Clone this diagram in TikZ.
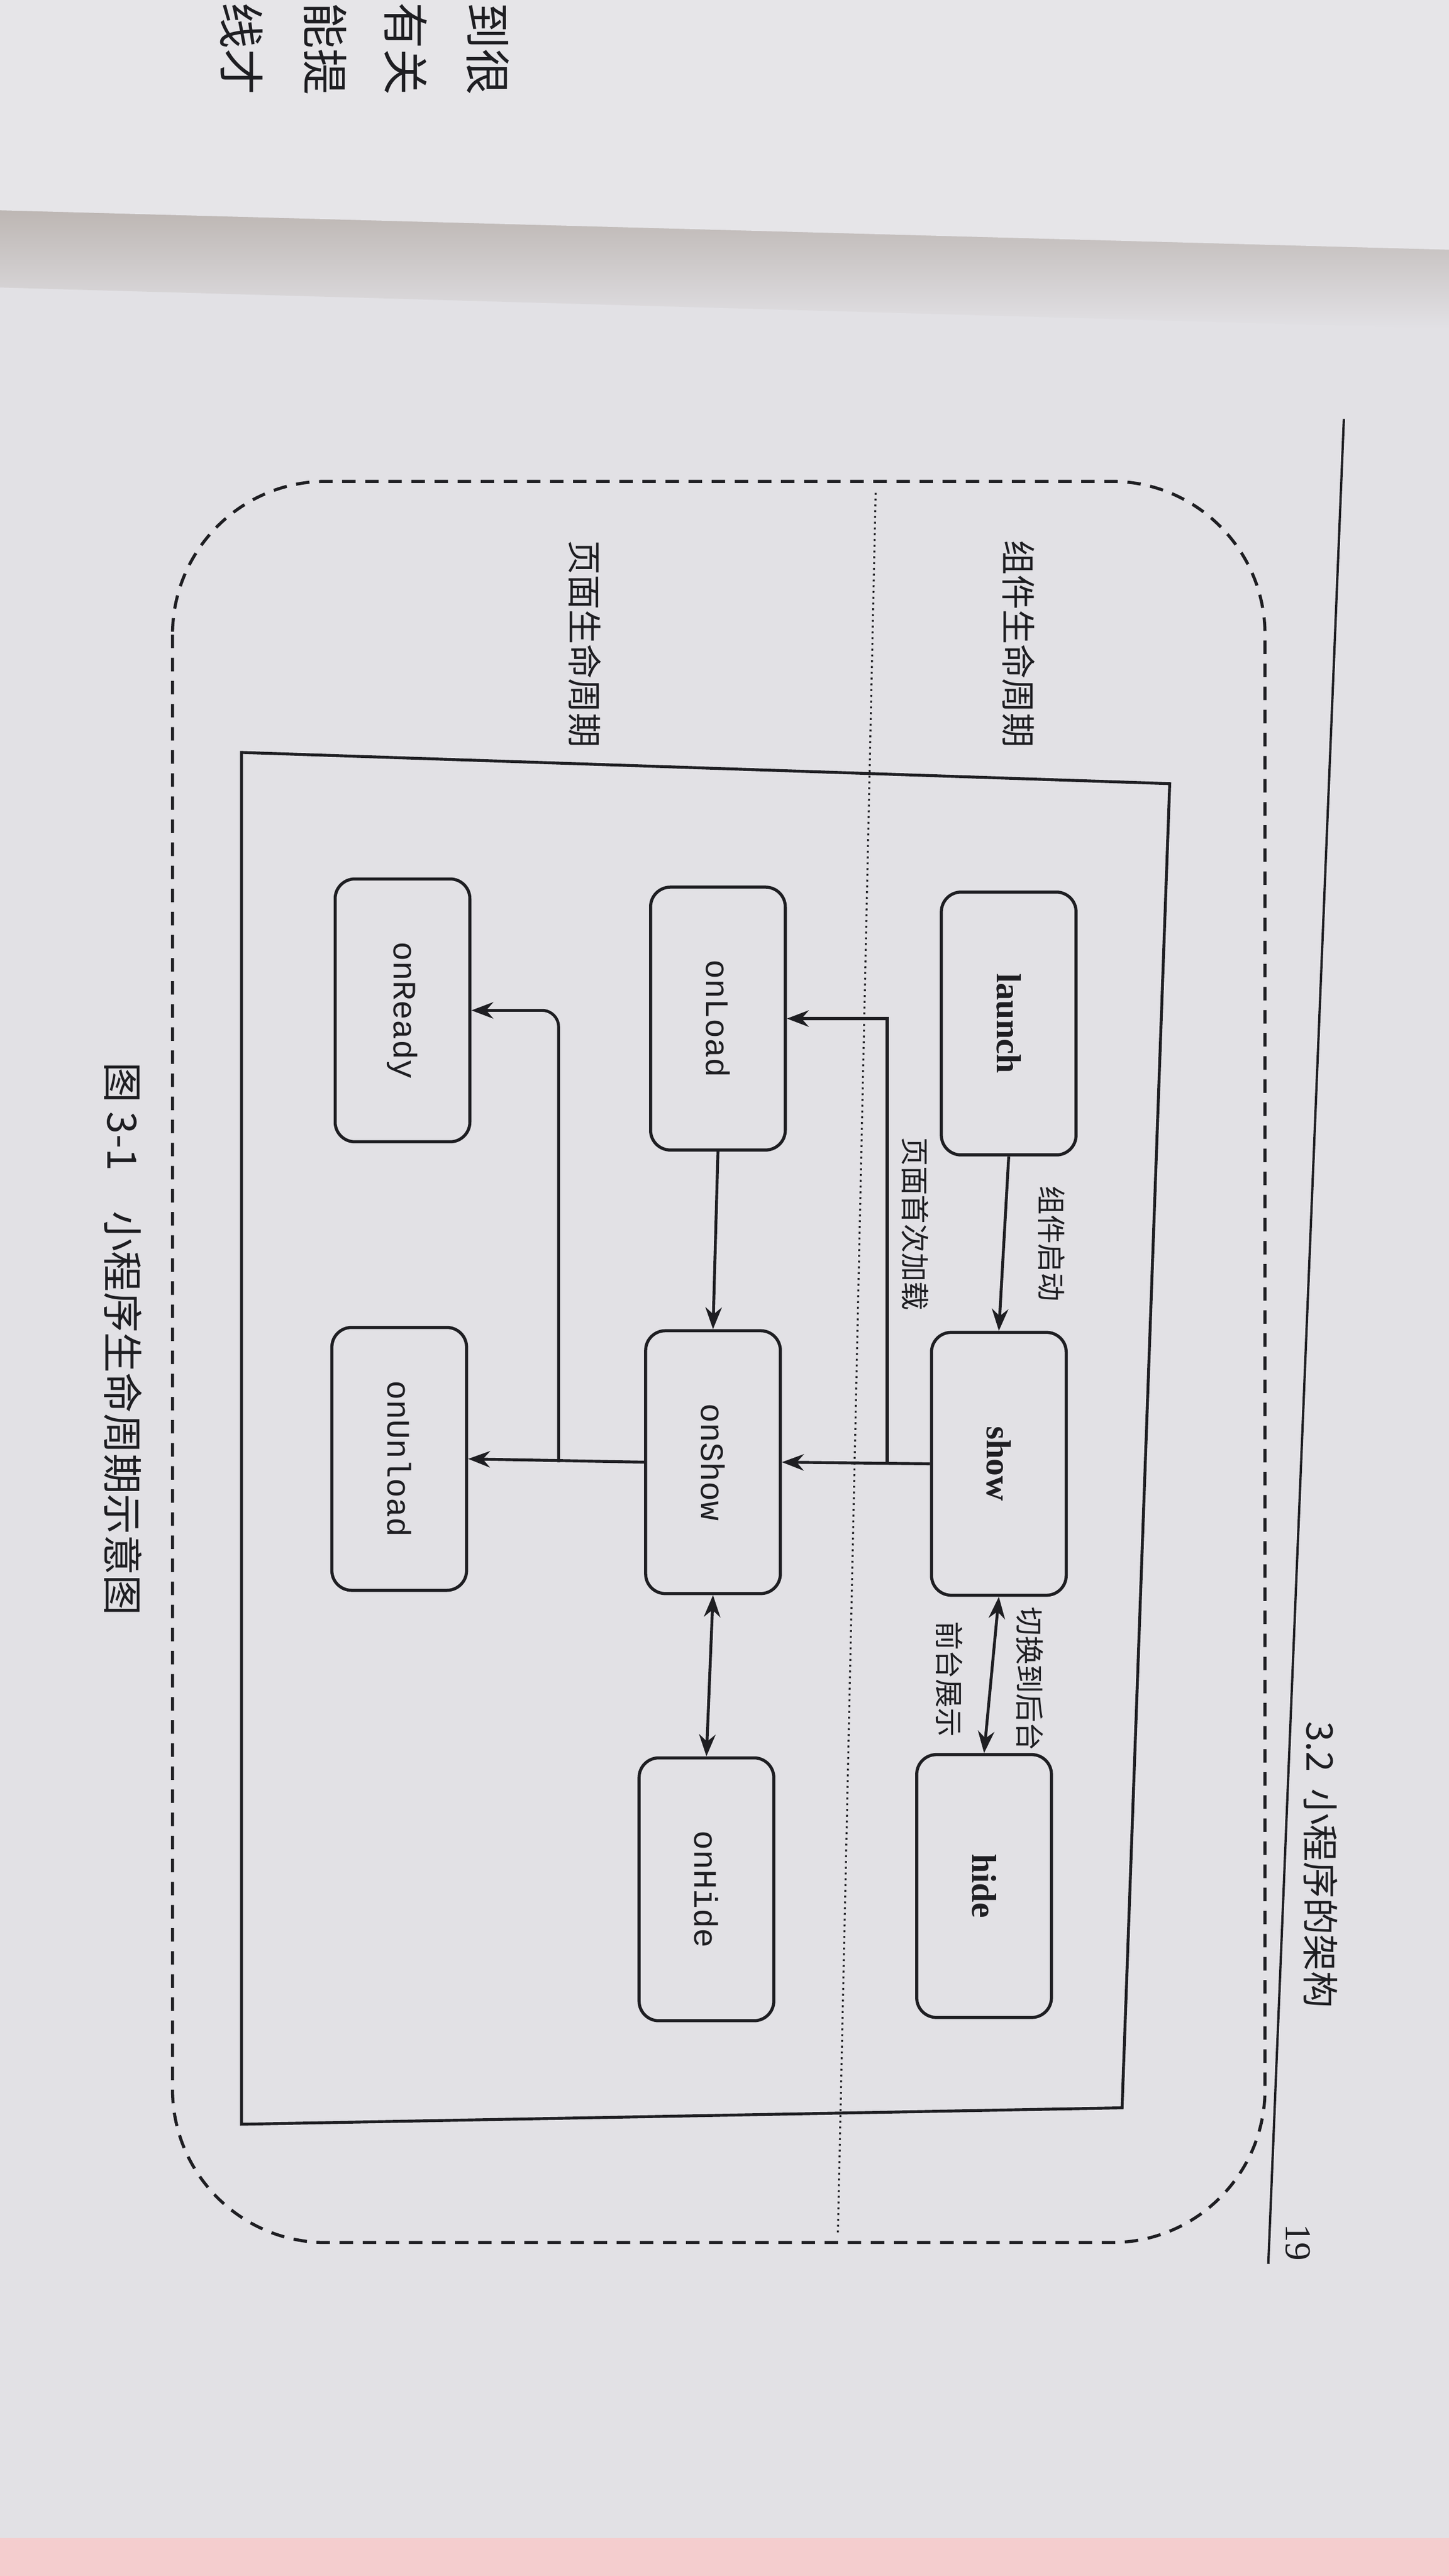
\documentclass[tikz,border=0pt]{standalone}
\usepackage{fontspec}
\setmainfont{Liberation Serif}
\newfontfamily\cjk{Noto Sans CJK SC}
\newfontfamily\mono{Liberation Mono}
\usetikzlibrary{arrows.meta}
\definecolor{paper}{HTML}{E2E1E5}
\definecolor{prevpage}{HTML}{E6E5E8}
\definecolor{shadow}{HTML}{B9B2AE}
\definecolor{ink}{HTML}{1E1E22}
\tikzset{
  box/.style={draw=ink, line width=1.6pt, rounded corners=3.6mm, minimum width=48mm, minimum height=24.6mm, rotate=-90, inner sep=0pt},
  bold/.style={font=\fontsize{18}{20}\selectfont\bfseries, text=ink},
  mon/.style={font=\fontsize{17}{20}\selectfont\mono, text=ink},
  lab/.style={font=\fontsize{15}{18}\selectfont\cjk, text=ink, rotate=-90},
  big/.style={font=\fontsize{18}{20}\selectfont\cjk, text=ink, rotate=-90},
  marg/.style={font=\fontsize{24}{26}\selectfont\cjk, text=ink, rotate=-90, anchor=east},
  arr/.style={draw=ink, line width=1.5pt, -{Stealth[length=4mm,width=3mm]}},
  darr/.style={draw=ink, line width=1.5pt, {Stealth[length=4mm,width=3mm]}-{Stealth[length=4mm,width=3mm]}},
}
\begin{document}
\begin{tikzpicture}[x=0.3mm, y=-0.3mm]
\fill[paper] (0,0) rectangle (882,1568);
\useasboundingbox (0,0) rectangle (882,1568);
\shade[top color=shadow, bottom color=paper] (0,120) -- (882,148) -- (882,200) -- (0,175) -- cycle;
\fill[prevpage] (0,0) -- (882,0) -- (882,152) -- (0,128) -- cycle;
\node[marg] (m1) at (297,62) {到很};
\node[marg] (m2) at (247,62) {有关};
\node[marg] (m3) at (198,62) {能提};
\node[marg] (m4) at (147,62) {线才};
\fill[pink!60!paper] (0,1545) rectangle (882,1568);
\draw[ink, line width=1.2pt] (818,255) -- (772,1378);
\node[font=\fontsize{19}{22}\selectfont\cjk, text=ink, rotate=-90] (hdr) at (804,1135) {3.2\ \ 小程序的架构};
\node[font=\fontsize{19}{22}\selectfont, text=ink, rotate=-90] (pg) at (790,1365) {19};
\draw[ink, line width=1.6pt, dash pattern=on 7pt off 5pt, rounded corners=28mm] (105,293) rectangle (770,1365);
\draw[ink, line width=1pt, dotted] (533,300) -- (510,1360);
\draw[ink, line width=1.5pt] (147,458) -- (712,477) -- (683,1283) -- (147,1293) -- cycle;
\node[big] (zl) at (620,392) {组件生命周期};
\node[big] (yl) at (356,392) {页面生命周期};
\node[box, bold] (launch) at (614,623) {launch};
\node[box, bold] (show) at (608,891) {show};
\node[box, bold] (hide) at (599,1148) {hide};
\node[box, mon] (onLoad) at (437,620) {onLoad};
\node[box, mon] (onShow) at (434,890) {onShow};
\node[box, mon] (onHide) at (430,1150) {onHide};
\node[box, mon] (onReady) at (245,615) {onReady};
\node[box, mon] (onUnload) at (243,888) {onUnload};
\draw[arr] (launch.east) -- (show.west);
\node[lab] (l1) at (640,757) {组件启动};
\draw[darr] (show.east) -- (hide.west);
\node[lab] (l2) at (627,1022) {切换到后台};
\node[lab] (l3) at (578,1022) {前台展示};
\draw[arr] (show.south) -- (onShow.north);
\coordinate (j1) at (540,890);
\draw[arr] (j1) |- (onLoad.north);
\node[lab] (l4) at (557,745) {页面首次加载};
\draw[arr] (onLoad.east) -- (onShow.west);
\draw[darr] (onShow.east) -- (onHide.west);
\draw[arr] (onShow.south) -- (onUnload.north);
\coordinate (j2) at (340,890);
\draw[arr, rounded corners=3mm] (j2) |- (onReady.north);
\node[font=\fontsize{21}{24}\selectfont\cjk, text=ink, rotate=-90] (cap) at (75,815) {图 3-1\quad 小程序生命周期示意图};
\end{tikzpicture}
\end{document}
